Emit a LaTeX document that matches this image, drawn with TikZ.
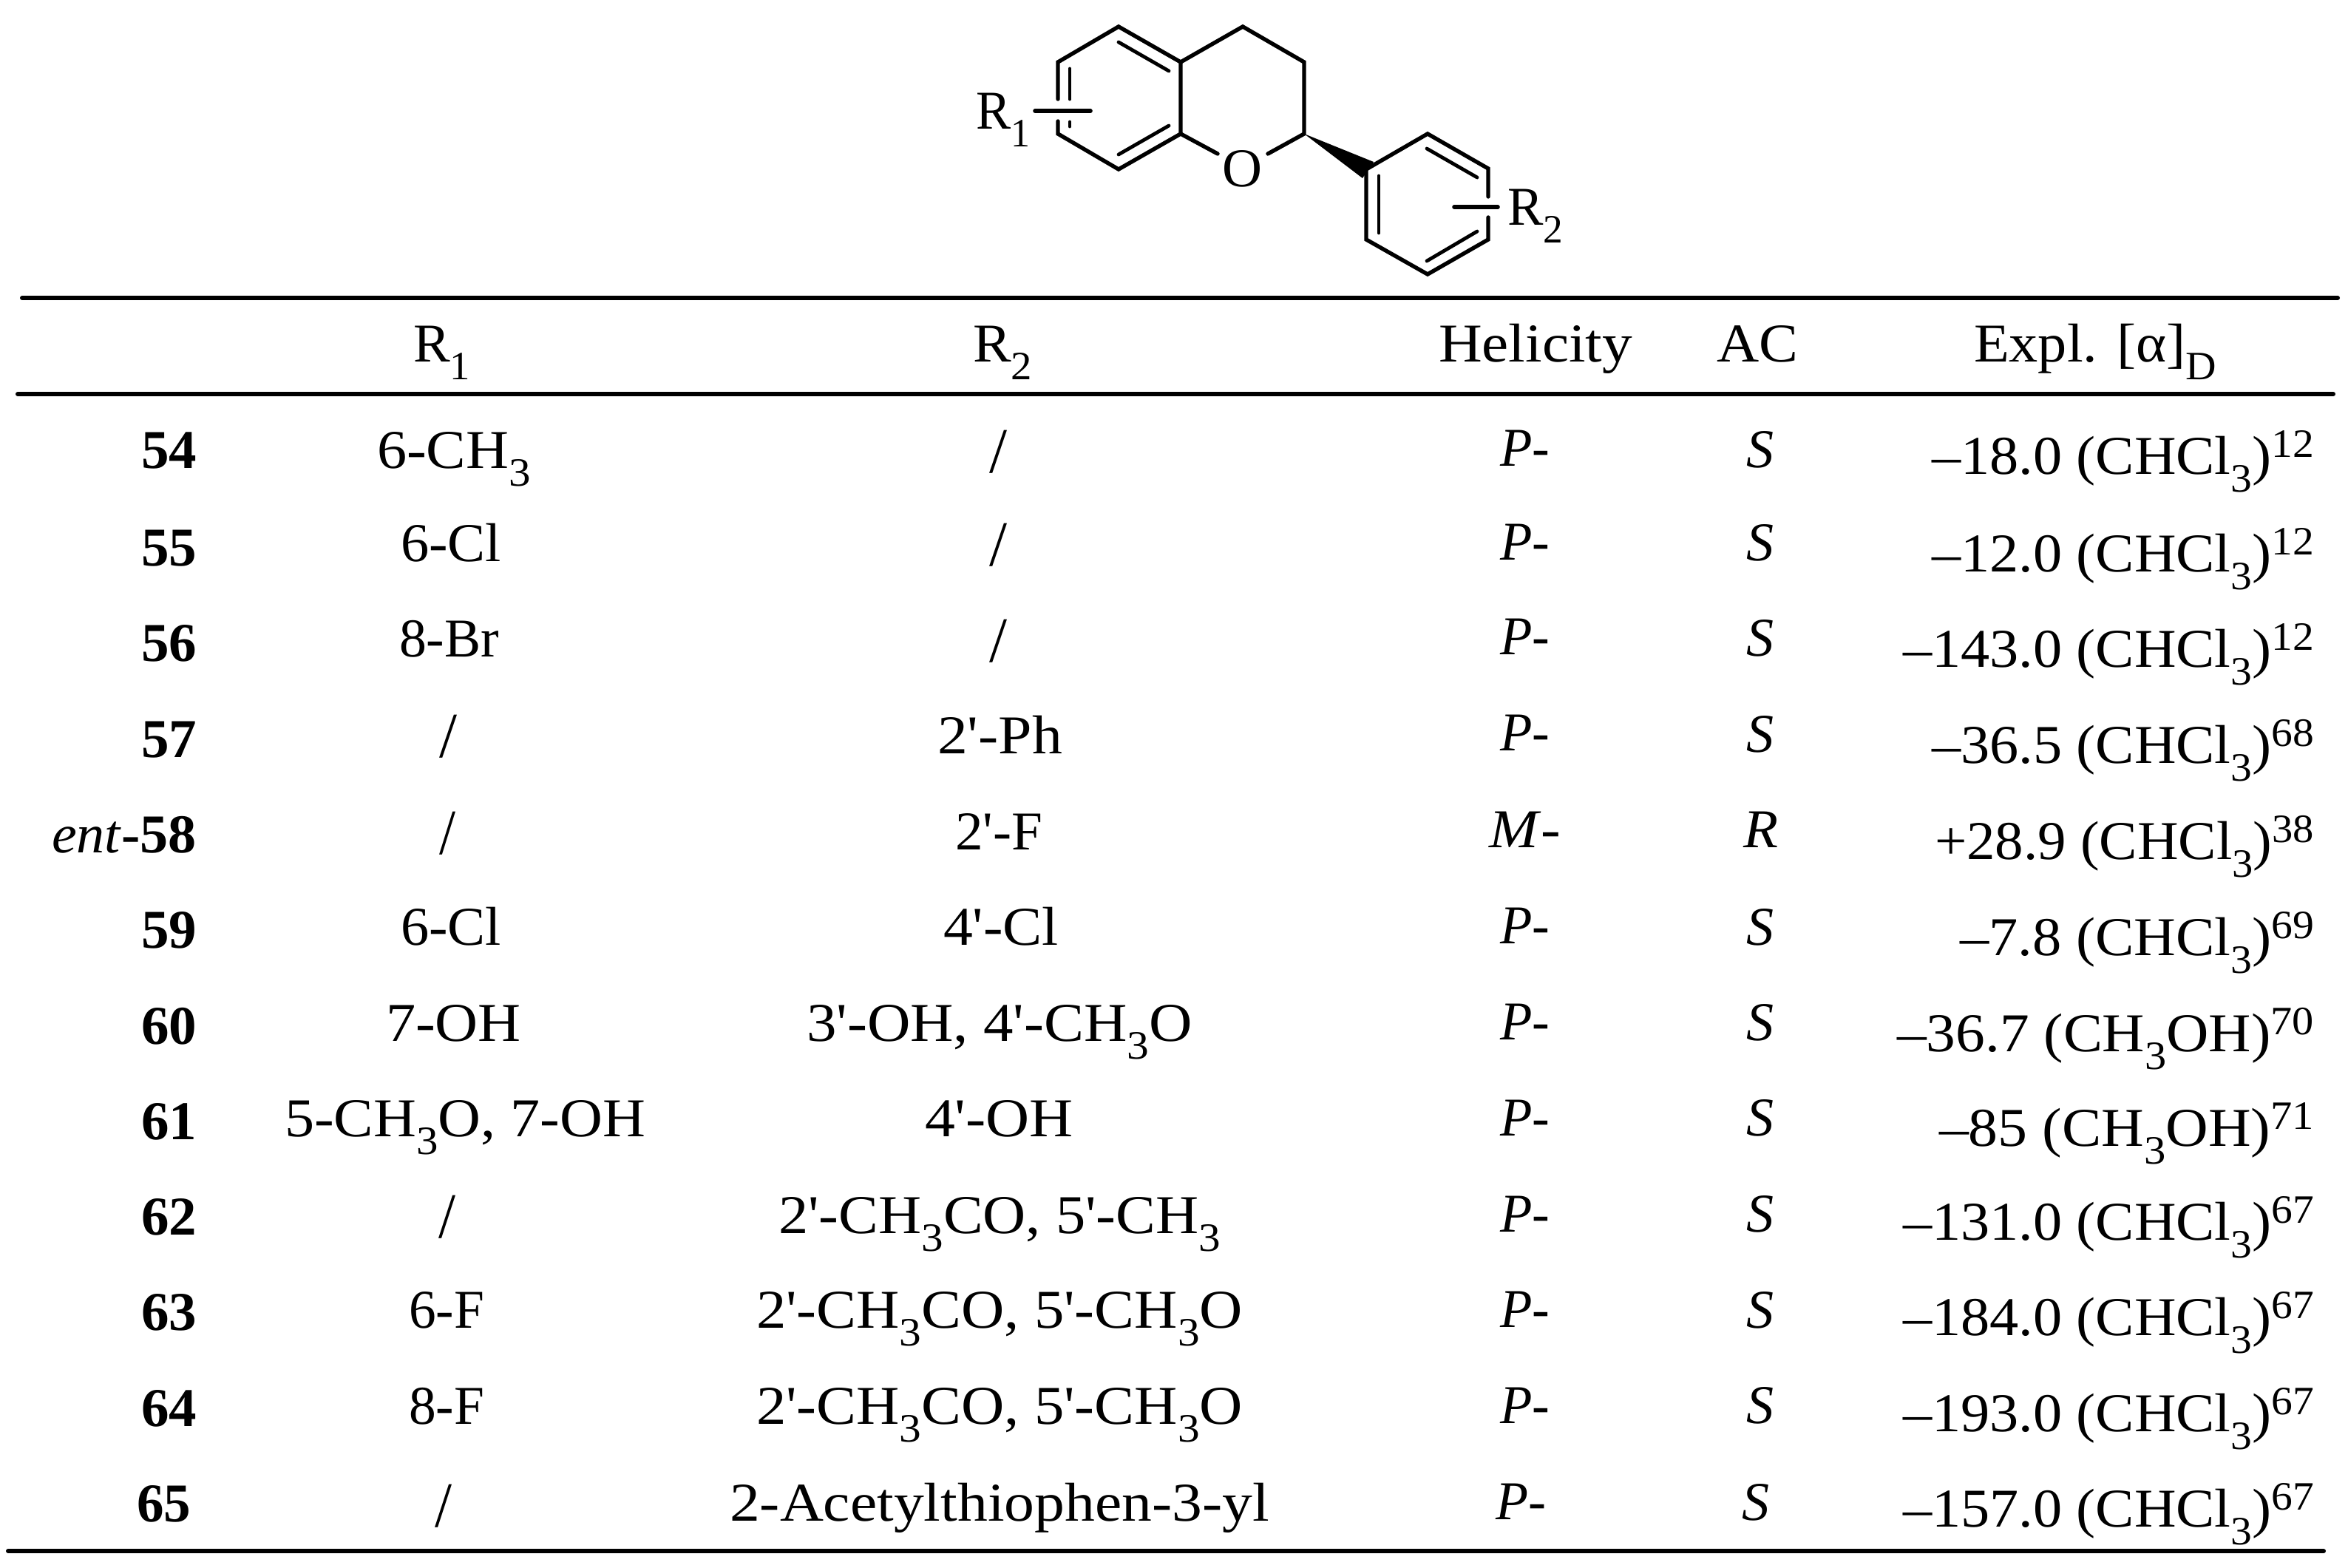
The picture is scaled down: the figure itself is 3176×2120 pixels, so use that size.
\documentclass[tikz,border=0pt]{standalone}
\usepackage{fontspec}
\usepackage{graphicx}
\newfontfamily\tblfont{Liberation Serif}
\newlength\cellw
\newcommand\sbs[1]{\raisebox{-6pt}{\fontsize{13.6}{14}\selectfont #1}}
\newcommand\sps[1]{\raisebox{5.75pt}{\fontsize{13.6}{14}\selectfont #1}}
\tikzset{
  celltext/.style={inner sep=0pt,outer sep=0pt,anchor=base west,font=\tblfont\fontsize{18.5}{20}\selectfont},
  slashtext/.style={inner sep=0pt,outer sep=0pt,anchor=base west,font=\tblfont\fontsize{21.75}{24}\selectfont},
  rulea/.style={line width=1.5pt,line cap=round},
  bond/.style={line width=1.35pt,line cap=round,line join=miter},
  thinbond/.style={line width=1.2pt,line cap=round},
  subbond/.style={line width=1.4pt,line cap=round},
}
\newcommand\cellt[5]{\node[celltext] (#1) at (#2,#4) {\setlength\cellw{\dimexpr(#3pt-#2pt)/4\relax}\resizebox{\cellw}{\height}{#5}};}
\newcommand\slashc[4]{\node[slashtext] (#1) at (#2,#4) {\setlength\cellw{\dimexpr(#3pt-#2pt)/4\relax}\resizebox{\cellw}{\height}{/}};}
\begin{document}
\begin{tikzpicture}[x=0.25pt,y=-0.25pt]
\useasboundingbox (0,0) rectangle (3176,2120);
% rules
\coordinate (t1) at (30,403); \coordinate (t2) at (3162,403);
\coordinate (m1) at (24,533); \coordinate (m2) at (3156,533);
\coordinate (b1) at (11,2098); \coordinate (b2) at (3143,2098);
\draw[rulea] (t1) -- (t2);
\draw[rulea] (m1) -- (m2);
\draw[rulea] (b1) -- (b2);
% molecule atoms
\coordinate (A) at (1513,36);
\coordinate (B) at (1597,84);
\coordinate (C) at (1597,181);
\coordinate (D) at (1513,229);
\coordinate (E) at (1431,181);
\coordinate (F) at (1431,84);
\coordinate (G) at (1681,36);
\coordinate (H) at (1764,84);
\coordinate (I) at (1764,181);
\coordinate (P) at (1848,229);
\coordinate (Q) at (1931,181);
\coordinate (U) at (2013,228);
\coordinate (V) at (2013,324);
\coordinate (W) at (1931,371);
\coordinate (X) at (1848,324);
\draw[bond] (1431,134) -- (F) -- (A) -- (B) -- (C) -- (D) -- (E) -- (1431,164);
\draw[bond] (B) -- (G) -- (H) -- (I) -- (1715,208);
\draw[bond] (C) -- (1647,208);
\draw[bond] (2013,266) -- (U) -- (Q) -- (P) -- (X) -- (W) -- (V) -- (2013,294);
\fill (I) -- (1858,219) -- (1843,241) -- cycle;
\draw[thinbond] (1513,57) -- (1581,96);
\draw[thinbond] (1447,93) -- (1447,134);
\draw[thinbond] (1447,165) -- (1447,171);
\draw[thinbond] (1513,209) -- (1581,170);
\draw[thinbond] (1930,201) -- (1998,240);
\draw[thinbond] (1865,238) -- (1865,315);
\draw[thinbond] (1930,353) -- (1998,313);
\draw[subbond] (1400,150) -- (1475,150);
\draw[subbond] (1967,280) -- (2026,280);
\cellt{mR1}{1320}{1393}{174}{R\sbs{1}}
\cellt{mR2}{2039}{2114}{304}{R\sbs{2}}
\cellt{mO}{1653}{1707}{252}{O}
% header
\cellt{hR1}{559}{636}{489}{R\sbs{1}}
\cellt{hR2}{1316}{1396}{489}{R\sbs{2}}
\cellt{hHel}{1946}{2208}{489}{Helicity}
\cellt{hAC}{2322}{2432}{489}{AC}
\cellt{hExp}{2670}{2998}{489}{Expl. [α]\sbs{D}}
% numbers
\cellt{n54}{191}{266}{633}{\textbf{54}}
\cellt{n55}{191}{266}{765}{\textbf{55}}
\cellt{n56}{191}{266}{894}{\textbf{56}}
\cellt{n57}{191}{266}{1024}{\textbf{57}}
\cellt{n58}{70}{266}{1153}{\textit{ent}\textbf{-58}}
\cellt{n59}{191}{266}{1282}{\textbf{59}}
\cellt{n60}{191}{266}{1412}{\textbf{60}}
\cellt{n61}{191}{266}{1541}{\textbf{61}}
\cellt{n62}{191}{266}{1670}{\textbf{62}}
\cellt{n63}{191}{266}{1799}{\textbf{63}}
\cellt{n64}{191}{266}{1929}{\textbf{64}}
\cellt{n65}{185}{258}{2058}{\textbf{65}}
% R1
\cellt{a54}{510}{718}{633}{6-CH\sbs{3}}
\cellt{a55}{542}{678}{759}{6-Cl}
\cellt{a56}{540}{675}{888}{8-Br}
\slashc{a57}{594}{618}{1024}
\slashc{a58}{594}{616}{1155}
\cellt{a59}{542}{678}{1278}{6-Cl}
\cellt{a60}{522}{705}{1408}{7-OH}
\cellt{a61}{385}{873}{1537}{5-CH\sbs{3}O, 7-OH}
\slashc{a62}{593}{616}{1674}
\cellt{a63}{553}{655}{1796}{6-F}
\cellt{a64}{553}{655}{1926}{8-F}
\slashc{a65}{588}{611}{2065}
% R2
\slashc{b54}{1338}{1362}{639}
\slashc{b55}{1338}{1362}{765}
\slashc{b56}{1338}{1362}{895}
\cellt{b57}{1268}{1437}{1019}{2'-Ph}
\cellt{b58}{1292}{1410}{1149}{2'-F}
\cellt{b59}{1276}{1432}{1278}{4'-Cl}
\cellt{b60}{1091}{1613}{1408}{3'-OH, 4'-CH\sbs{3}O}
\cellt{b61}{1251}{1452}{1537}{4'-OH}
\cellt{b62}{1053}{1651}{1668}{2'-CH\sbs{3}CO, 5'-CH\sbs{3}}
\cellt{b63}{1023}{1681}{1796}{2'-CH\sbs{3}CO, 5'-CH\sbs{3}O}
\cellt{b64}{1023}{1681}{1926}{2'-CH\sbs{3}CO, 5'-CH\sbs{3}O}
\cellt{b65}{987}{1717}{2057}{2-Acetylthiophen-3-yl}
% Helicity
\begin{scope}[shift={(-3,0)}]
\cellt{h54}{2032}{2099}{630}{\textit{P}-}
\cellt{h55}{2032}{2099}{757}{\textit{P}-}
\cellt{h56}{2032}{2099}{885}{\textit{P}-}
\cellt{h57}{2032}{2099}{1015}{\textit{P}-}
\cellt{h58}{2017}{2114}{1146}{\textit{M}-}
\cellt{h59}{2032}{2099}{1276}{\textit{P}-}
\cellt{h60}{2032}{2099}{1406}{\textit{P}-}
\cellt{h61}{2032}{2099}{1536}{\textit{P}-}
\cellt{h62}{2032}{2099}{1666}{\textit{P}-}
\cellt{h63}{2032}{2099}{1795}{\textit{P}-}
\cellt{h64}{2032}{2099}{1925}{\textit{P}-}
\cellt{h65}{2026}{2094}{2055}{\textit{P}-}
\end{scope}
% AC
\begin{scope}[shift={(-4,0)}]
\cellt{s54}{2366}{2403}{632}{\textit{S}}
\cellt{s55}{2366}{2403}{758}{\textit{S}}
\cellt{s56}{2366}{2403}{887}{\textit{S}}
\cellt{s57}{2366}{2403}{1017}{\textit{S}}
\cellt{s58}{2362}{2409}{1146}{\textit{R}}
\cellt{s59}{2366}{2403}{1278}{\textit{S}}
\cellt{s60}{2366}{2403}{1407}{\textit{S}}
\cellt{s61}{2366}{2403}{1536}{\textit{S}}
\cellt{s62}{2366}{2403}{1666}{\textit{S}}
\cellt{s63}{2366}{2403}{1796}{\textit{S}}
\cellt{s64}{2366}{2403}{1925}{\textit{S}}
\cellt{s65}{2360}{2397}{2056}{\textit{S}}
\end{scope}
% Expl
\begin{scope}[shift={(-6,0)}]
\cellt{e54}{2619}{3136}{641}{–18.0 (CHCl\sbs{3})\sps{12}}
\cellt{e55}{2619}{3136}{773}{–12.0 (CHCl\sbs{3})\sps{12}}
\cellt{e56}{2580}{3136}{902}{–143.0 (CHCl\sbs{3})\sps{12}}
\cellt{e57}{2619}{3136}{1032}{–36.5 (CHCl\sbs{3})\sps{68}}
\cellt{e58}{2623}{3136}{1162}{+28.9 (CHCl\sbs{3})\sps{38}}
\cellt{e59}{2657}{3136}{1292}{–7.8 (CHCl\sbs{3})\sps{69}}
\cellt{e60}{2572}{3136}{1422}{–36.7 (CH\sbs{3}OH)\sps{70}}
\cellt{e61}{2629}{3136}{1550}{–85 (CH\sbs{3}OH)\sps{71}}
\cellt{e62}{2580}{3136}{1677}{–131.0 (CHCl\sbs{3})\sps{67}}
\cellt{e63}{2580}{3136}{1806}{–184.0 (CHCl\sbs{3})\sps{67}}
\cellt{e64}{2580}{3136}{1936}{–193.0 (CHCl\sbs{3})\sps{67}}
\cellt{e65}{2580}{3136}{2065}{–157.0 (CHCl\sbs{3})\sps{67}}
\end{scope}
\end{tikzpicture}
\end{document}
